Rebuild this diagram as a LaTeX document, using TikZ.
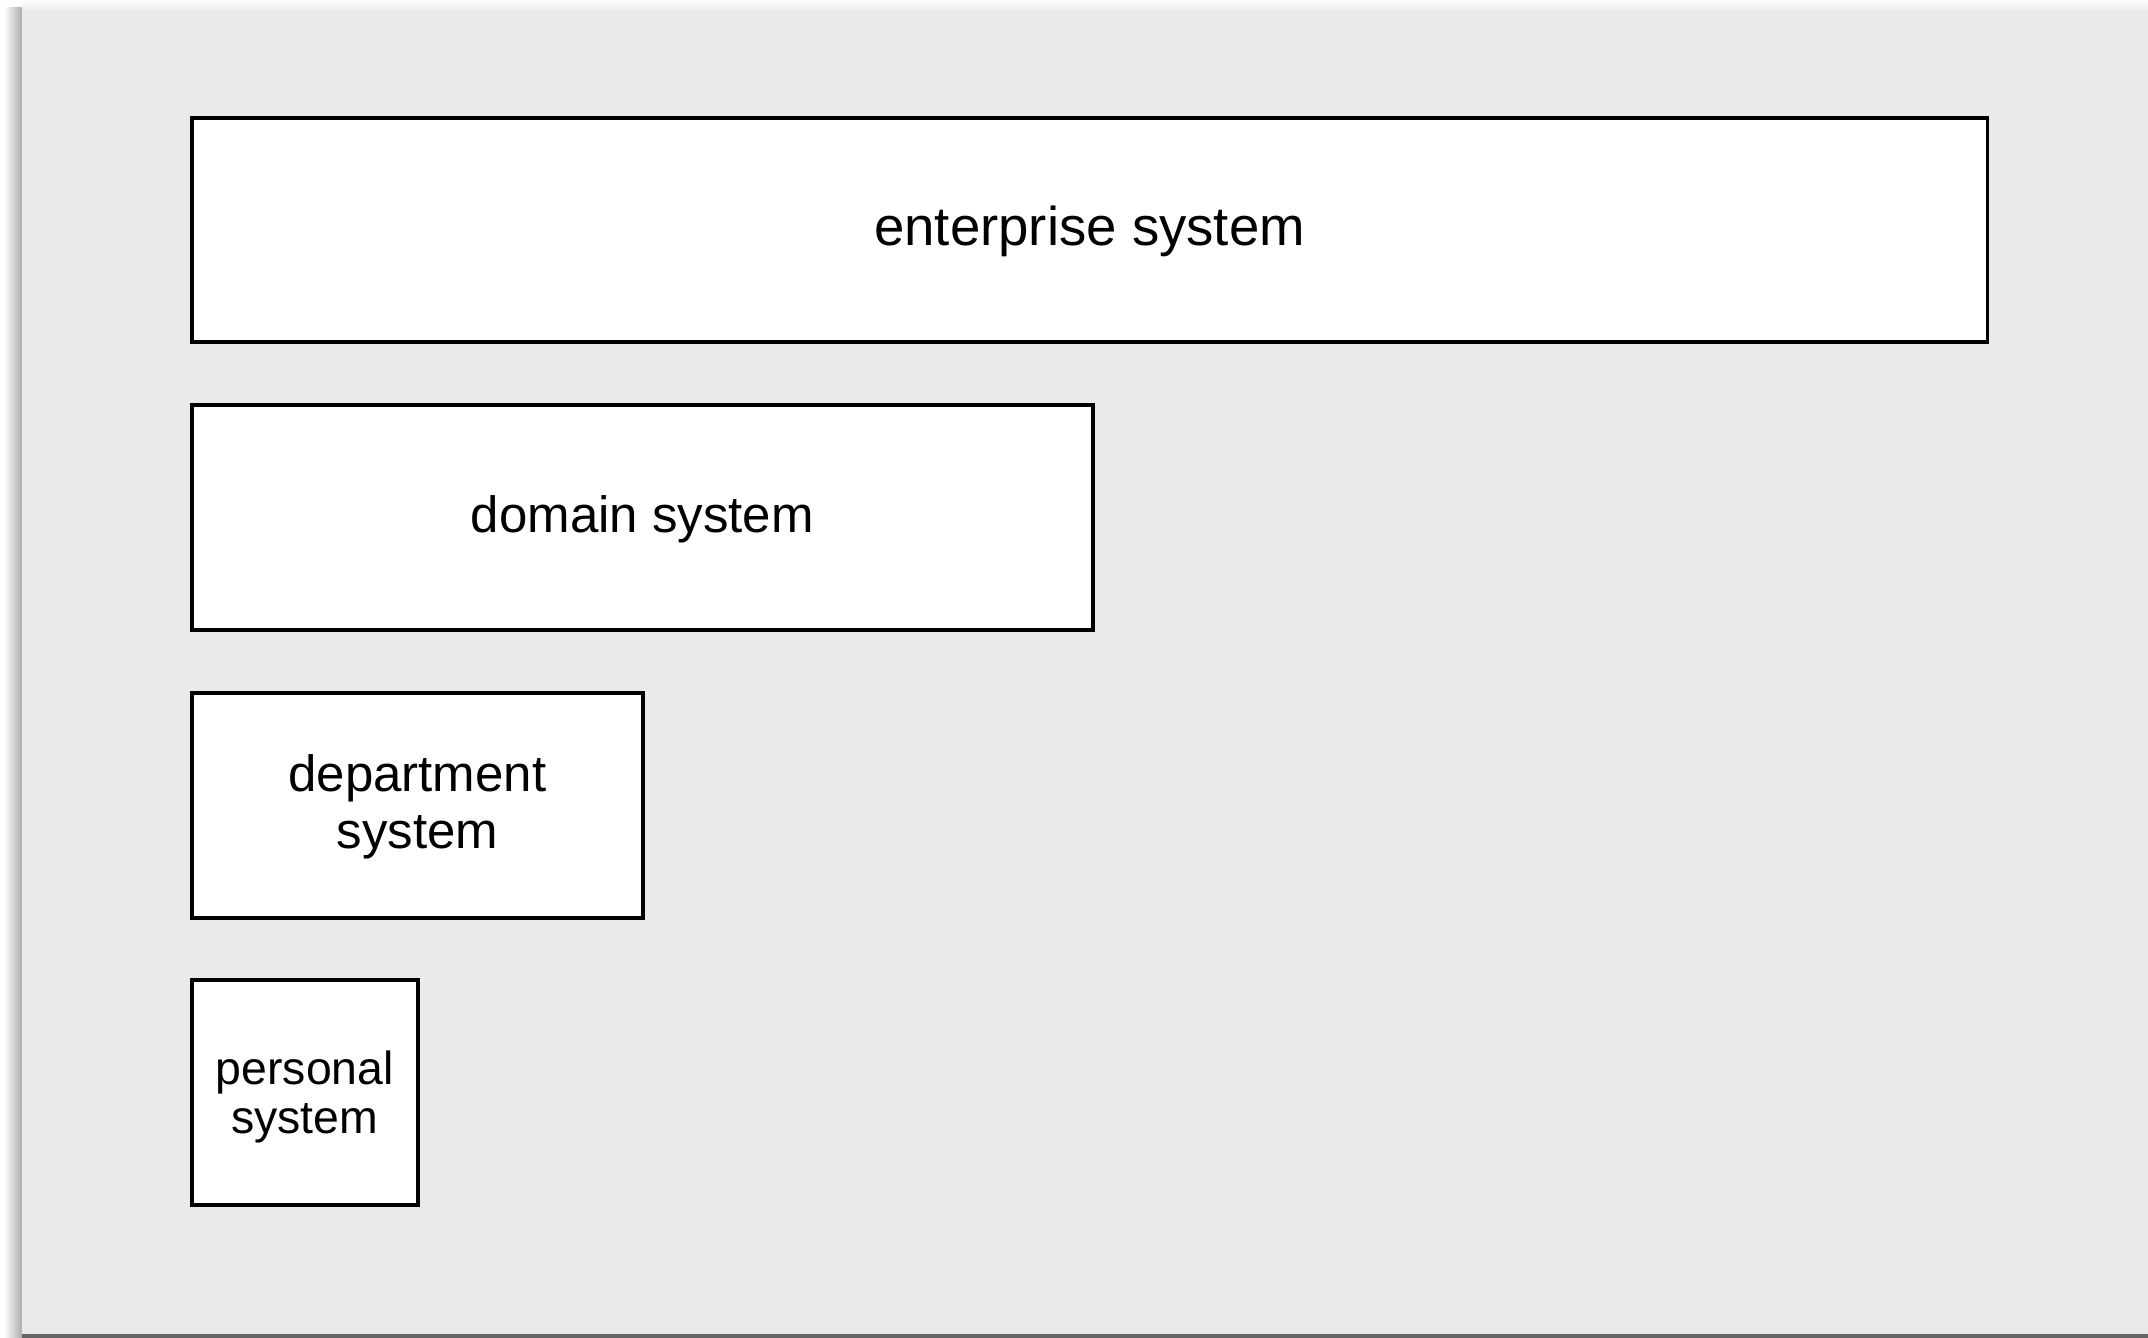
\documentclass[tikz,border=0pt]{standalone}
\usepackage{fontspec}
\setmainfont{Liberation Sans}
\definecolor{panel}{HTML}{EAEAEA}
\definecolor{edge}{HTML}{666666}
\newcommand\lift[1]{\rule{0pt}{#1}}
\tikzset{sysbox/.style={draw, line width=1.8pt, fill=white, anchor=north west,
  minimum height=112.5pt, inner sep=0pt, align=center,
  font=\fontsize{25.5}{28.5}\selectfont}}
\begin{document}
\begin{tikzpicture}[x=0.5pt,y=-0.5pt]
\useasboundingbox (0,0) rectangle (2148,1338);
\fill[white] (0,0) rectangle (2148,1338);
\shade[left color=white, right color=gray!65] (4,8) rectangle (22,1338);
\shade[top color=white, bottom color=gray!15] (22,0) rectangle (2148,10);
\fill[edge] (22,1334) rectangle (2148,1338);
\fill[panel] (22,10) rectangle (2148,1334);
\node (enterprise) [sysbox, minimum width=897.8pt, minimum height=112pt, font=\fontsize{27.3}{28.5}\selectfont] at (190,116) {\lift{0.8em}enterprise system};
\node (domain) [sysbox, minimum width=450.5pt] at (190,403) {\lift{0.8em}domain system};
\node (department) [sysbox, minimum width=225.5pt] at (190,691) {\lift{0.78em}department\\system};
\node (personal) [sysbox, minimum width=113pt, font=\fontsize{23.2}{24.5}\selectfont] at (190,978) {\lift{0.93em}personal\\system};
\end{tikzpicture}
\end{document}
